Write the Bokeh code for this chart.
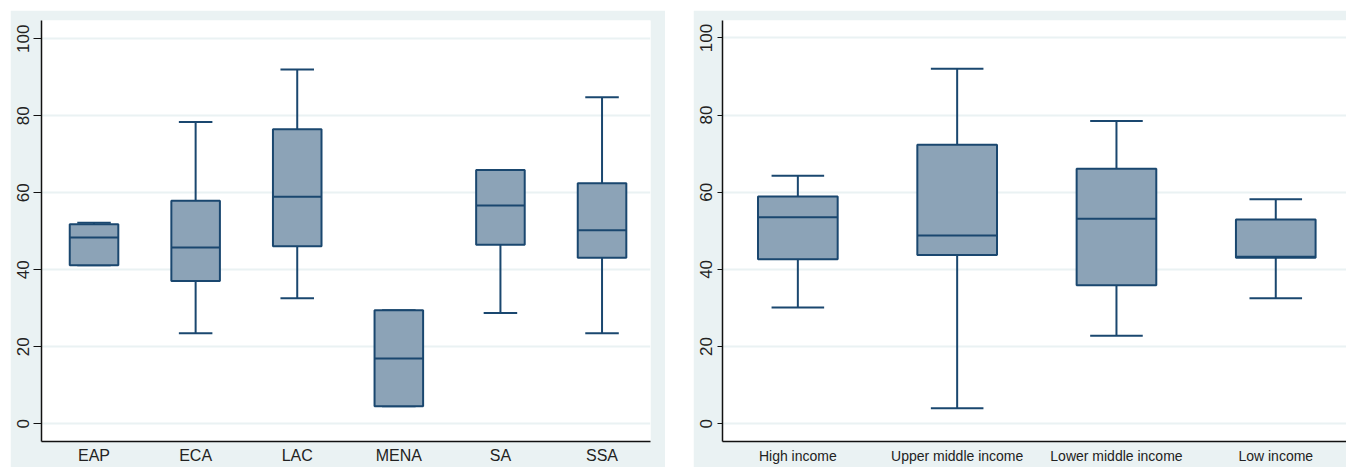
from bokeh.plotting import figure
from bokeh.layouts import row, column
from bokeh.models import Spacer, FixedTicker, Range1d
from bokeh.embed import file_html
from bokeh.resources import INLINE

# ---- data: left panel (regions) ----
regions = ["EAP", "ECA", "LAC", "MENA", "SA", "SSA"]
r_lower = [41.2, 23.5, 32.6, 4.6, 28.8, 23.5]
r_q1 = [41.2, 37.1, 46.1, 4.6, 46.5, 43.1]
r_median = [48.4, 45.8, 59.0, 17.0, 56.7, 50.3]
r_q3 = [51.8, 57.9, 76.5, 29.5, 65.9, 62.5]
r_upper = [52.2, 78.4, 92.0, 29.5, 65.9, 84.8]

# ---- data: right panel (income groups) ----
income = ["High income", "Upper middle income", "Lower middle income", "Low income"]
i_lower = [30.1, 4.0, 22.8, 32.5]
i_q1 = [42.6, 43.7, 35.9, 43.0]
i_median = [53.5, 48.8, 53.1, 43.3]
i_q3 = [58.9, 72.3, 66.1, 52.9]
i_upper = [64.3, 92.0, 78.5, 58.2]

y_ticks = [0, 20, 40, 60, 80, 100]

BG = "#EAF2F3"
NAVY = "#1A476F"
FILL = "#8CA3B7"
TXT = "#222222"


def box_figure(cats, lower, q1, med, q3, upper, width, height, xr, yr,
               box_w, cap_w, mb_left, mb_right, mb_top, mb_bottom,
               xfont, yfont, ytick_out, ystandoff, xstandoff):
    p = figure(width=width, height=height, output_backend="svg",
               toolbar_location=None, x_range=Range1d(*xr), y_range=Range1d(*yr),
               min_border_left=mb_left, min_border_right=mb_right,
               min_border_top=mb_top, min_border_bottom=mb_bottom)
    p.background_fill_color = "white"
    p.border_fill_color = BG
    p.outline_line_color = None
    xs = list(range(len(cats)))

    # whiskers
    p.segment(x0=xs, y0=lower, x1=xs, y1=q1, line_color=NAVY, line_width=2)
    p.segment(x0=xs, y0=q3, x1=xs, y1=upper, line_color=NAVY, line_width=2)
    # caps
    p.segment(x0=[x - cap_w / 2 for x in xs], y0=lower,
              x1=[x + cap_w / 2 for x in xs], y1=lower, line_color=NAVY, line_width=2)
    p.segment(x0=[x - cap_w / 2 for x in xs], y0=upper,
              x1=[x + cap_w / 2 for x in xs], y1=upper, line_color=NAVY, line_width=2)
    # boxes
    p.vbar(x=xs, width=box_w, bottom=q1, top=q3, fill_color=FILL,
           line_color=NAVY, line_width=2)
    # medians
    p.segment(x0=[x - box_w / 2 for x in xs], y0=med,
              x1=[x + box_w / 2 for x in xs], y1=med, line_color=NAVY, line_width=2)

    # grid
    p.xgrid.grid_line_color = None
    p.ygrid.grid_line_color = BG
    p.ygrid.grid_line_width = 2
    p.ygrid.ticker = FixedTicker(ticks=y_ticks)

    # x axis
    xa = p.xaxis[0]
    xa.ticker = FixedTicker(ticks=xs)
    xa.major_label_overrides = {float(i): c for i, c in enumerate(cats)}
    xa.major_tick_out = 0
    xa.major_tick_in = 0
    xa.minor_tick_out = 0
    xa.minor_tick_in = 0
    xa.axis_line_color = "#111111"
    xa.axis_line_width = 1.5
    xa.major_label_text_font = "Liberation Sans"
    xa.major_label_text_font_size = xfont
    xa.major_label_text_color = TXT
    xa.major_label_standoff = xstandoff

    # y axis
    ya = p.yaxis[0]
    ya.ticker = FixedTicker(ticks=y_ticks)
    ya.major_tick_out = ytick_out
    ya.major_tick_in = 0
    ya.minor_tick_out = 0
    ya.minor_tick_in = 0
    ya.major_tick_line_color = "#111111"
    ya.axis_line_color = "#111111"
    ya.axis_line_width = 1.5
    ya.major_label_orientation = "vertical"
    ya.major_label_text_font = "Liberation Sans"
    ya.major_label_text_font_size = yfont
    ya.major_label_text_color = TXT
    ya.major_label_standoff = ystandoff
    return p


p1 = box_figure(regions, r_lower, r_q1, r_median, r_q3, r_upper,
                width=655, height=457, xr=(-0.517, 5.477), yr=(-4.58, 104.73),
                box_w=0.478, cap_w=0.33, mb_left=31, mb_right=15, mb_top=10,
                mb_bottom=24, xfont="16px", yfont="17px", ytick_out=8, ystandoff=4,
                xstandoff=5)

p2 = box_figure(income, i_lower, i_q1, i_median, i_q3, i_upper,
                width=653, height=457, xr=(-0.473, 3.444), yr=(-4.63, 104.53),
                box_w=0.50, cap_w=0.33, mb_left=29, mb_right=0, mb_top=7,
                mb_bottom=26, xfont="14px", yfont="17px", ytick_out=5, ystandoff=5,
                xstandoff=6)

layout = column(Spacer(height=10),
                row(Spacer(width=10), p1, Spacer(width=28), p2))

open("out.html", "w").write(file_html(layout, INLINE))
